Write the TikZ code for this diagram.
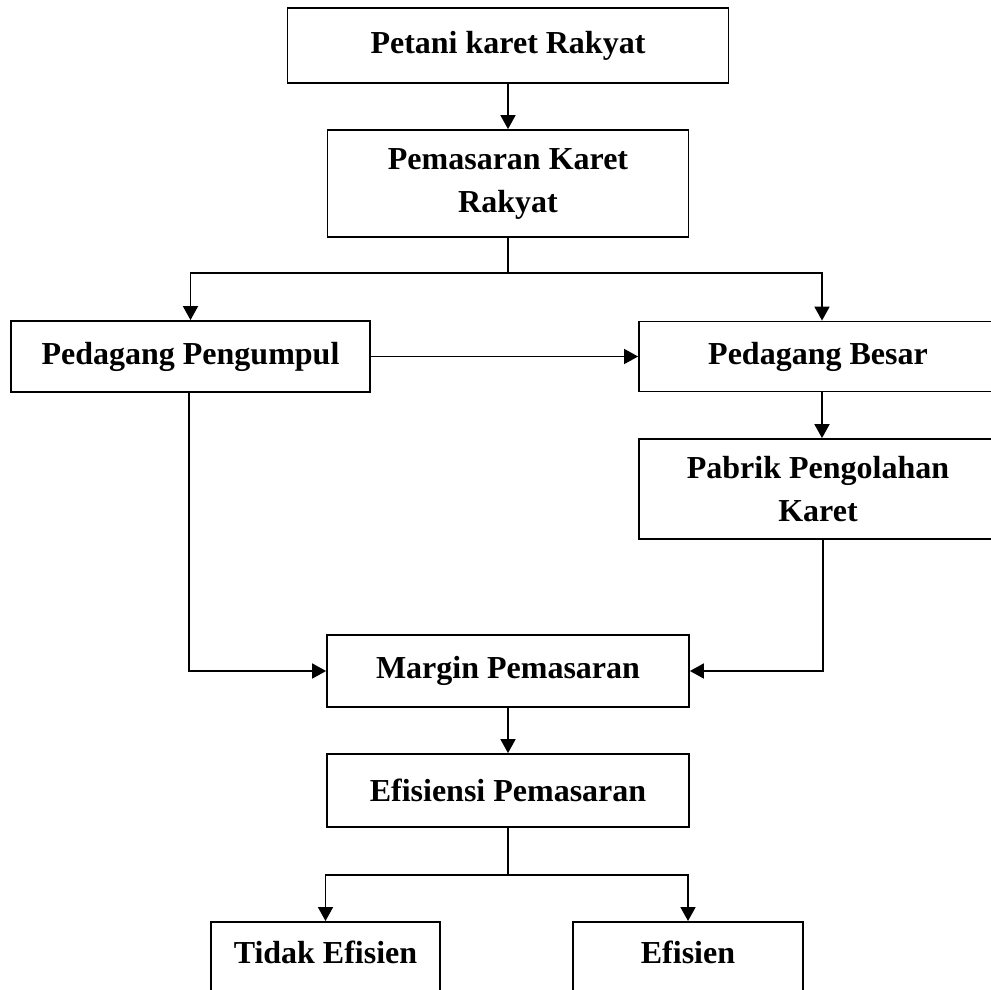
\documentclass[tikz,border=0pt]{standalone}
\usepackage{fontspec}
\setmainfont{Liberation Serif}
\usetikzlibrary{arrows.meta}
\begin{document}
\begin{tikzpicture}[x=1pt,y=-1pt,
  box/.style={draw=black, line width=1.8pt, inner sep=0pt, align=center,
    font=\bfseries\fontsize{32}{43}\selectfont},
  arr/.style={line width=1.8pt, -{Triangle[length=14pt,width=15pt]}},
  ln/.style={line width=1.8pt}]
\useasboundingbox (0,0) rectangle (991,990);
\clip (0,0) rectangle (991,990);
\node[box, minimum width=441pt, minimum height=75pt] (b1) at (508,45.5) {Petani karet Rakyat};
\node[box, minimum width=361pt, minimum height=107pt] (b2) at (508,183.5) {Pemasaran Karet\\Rakyat};
\node[box, minimum width=359pt, minimum height=71pt] (b3) at (190.5,356.5) {Pedagang Pengumpul};
\node[box, minimum width=358pt, minimum height=70pt] (b4) at (818,356.5) {Pedagang Besar};
\node[box, minimum width=358pt, minimum height=100pt] (b5) at (818,489) {Pabrik Pengolahan\\Karet};
\node[box, minimum width=362pt, minimum height=72pt] (b6) at (508,671) {Margin Pemasaran};
\node[box, minimum width=362pt, minimum height=73pt] (b7) at (508,790.5) {Efisiensi Pemasaran};
\node[box, minimum width=229pt, text height=42pt, text depth=60pt, anchor=north] (b8) at (325.5,921) {Tidak Efisien};
\node[box, minimum width=230pt, text height=42pt, text depth=60pt, anchor=north] (b9) at (688,921) {Efisien};
\coordinate (s1) at (508,273);
\coordinate (s2) at (508,875);
\draw[arr] (b1.south) -- (b2.north);
\draw[ln] (b2.south) -- (s1);
\draw[arr] (s1) -| (b3.north);
\draw[arr] (s1) -| ([xshift=4pt]b4.north);
\draw[arr] (b3.east) -- (b4.west);
\draw[arr] ([xshift=4pt]b4.south) -- ([xshift=4pt]b5.north);
\draw[arr] ([xshift=5pt]b5.south) |- (b6.east);
\draw[arr] ([xshift=-1.5pt]b3.south) |- (b6.west);
\draw[arr] (b6.south) -- (b7.north);
\draw[ln] (b7.south) -- (s2);
\draw[arr] (s2) -| (b8.north);
\draw[arr] (s2) -| (b9.north);
\end{tikzpicture}
\end{document}
